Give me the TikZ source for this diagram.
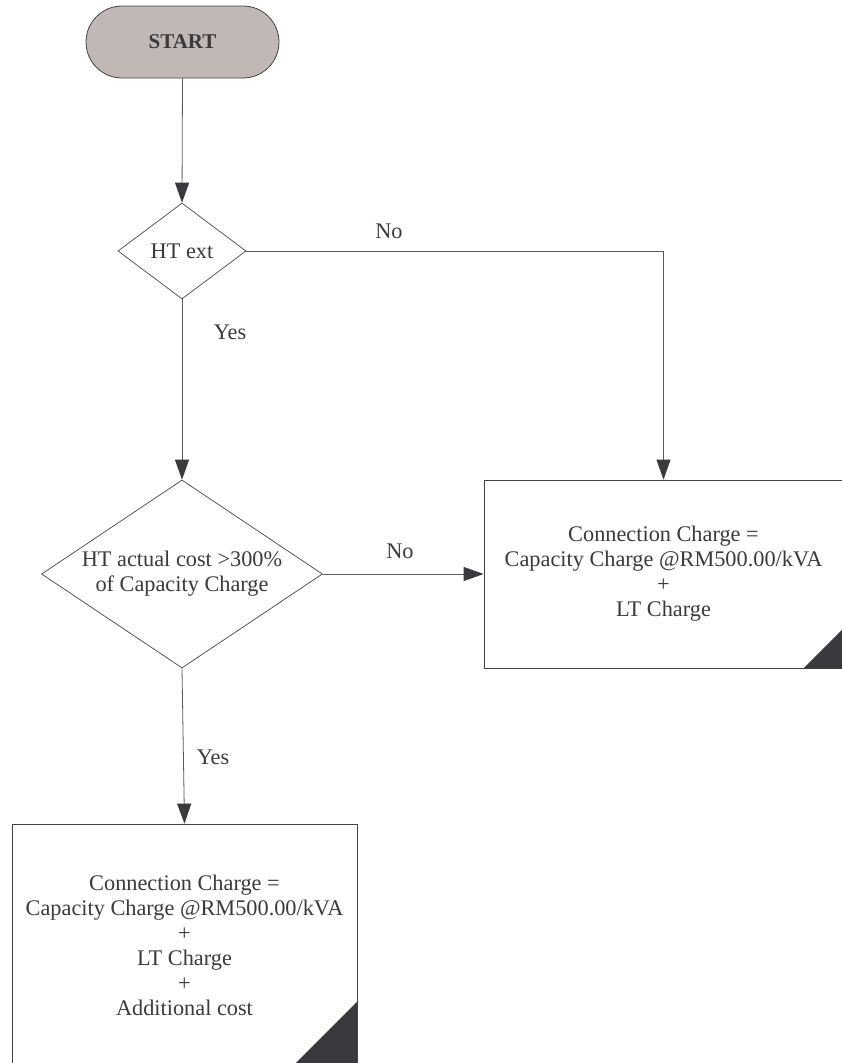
\documentclass[tikz,border=0pt]{standalone}
\usepackage{fontspec}
\setmainfont{Liberation Serif}
\usetikzlibrary{arrows.meta,shapes.geometric}
\definecolor{startfill}{HTML}{C1B8B6}
\definecolor{ink}{HTML}{3A393D}
\definecolor{bord}{HTML}{444444}
\definecolor{linec}{HTML}{5A5A5A}
\begin{document}
\begin{tikzpicture}[x=1pt,y=-1pt,
  every node/.style={text=ink, font=\fontsize{22.3}{25}\selectfont},
  term/.style={draw=bord, line width=0.8pt, fill=startfill, rounded corners=36pt,
    minimum width=193pt, minimum height=72pt, inner sep=0pt,
    font=\fontsize{21}{24}\selectfont\bfseries},
  decision/.style={draw=bord, line width=0.7pt, diamond, inner sep=0pt},
  procbox/.style={draw=bord, line width=0.8pt, rectangle, inner sep=0pt, align=center},
  conn/.style={draw=linec, line width=0.8pt, -{Triangle[length=20pt,width=14pt,color=ink]}},
  lbl/.style={inner sep=0pt},
  txt/.style={align=center, inner sep=0pt},
  corner/.style={fill=ink}
]
\useasboundingbox (0,0) rectangle (842,1063);
\clip (0,0) rectangle (842,1063);

\node[term] (start) at (182.5,42) {START};

\node[decision, minimum width=128pt, minimum height=96pt] (d1) at (182,251) {};
\node[txt] (d1t) at (d1) {HT ext};

\node[decision, minimum width=281pt, minimum height=188pt] (d2) at (182,574) {};
\node[txt] (d2t) at (d2) {HT actual cost >300\%\\of Capacity Charge};

\node[procbox, minimum width=359pt, minimum height=188pt] (b1) at (663.5,574)
  {Connection Charge =\\Capacity Charge @RM500.00/kVA\\+\\LT Charge};
\fill[corner] (b1.south east) -- ([xshift=-40pt]b1.south east) -- ([yshift=40pt]b1.south east) -- cycle;

\node[procbox, minimum width=345pt, minimum height=242pt] (b2) at (184.5,945)
  {Connection Charge =\\Capacity Charge @RM500.00/kVA\\+\\LT Charge\\+\\Additional cost};
\fill[corner] (b2.south east) -- ([xshift=-65pt]b2.south east) -- ([yshift=65pt]b2.south east) -- cycle;

\draw[conn] (start.south) -- (d1.north);
\draw[conn] (d1.east) -| (b1.north);
\draw[conn] (d1.south) -- (d2.north);
\draw[conn] (d2.east) -- (b1.west);
\draw[conn] (d2.south) -- (b2.north);

\node[lbl] (no1) at (389,231) {No};
\node[lbl] (yes1) at (230,332) {Yes};
\node[lbl] (no2) at (400,551) {No};
\node[lbl] (yes2) at (213,757) {Yes};
\end{tikzpicture}
\end{document}
